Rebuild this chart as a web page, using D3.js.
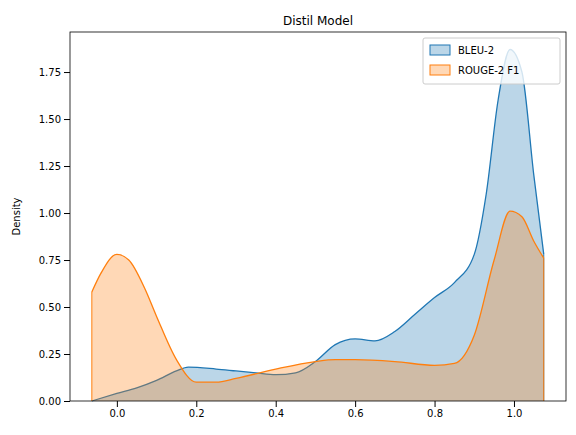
<!DOCTYPE html><html><head><script src="https://cdn.jsdelivr.net/npm/d3@7"></script>
<style>body{margin:0;background:#fff}text{font-family:"DejaVu Sans",sans-serif}</style></head><body><svg id="c" width="576" height="435"></svg>
<script>
const seriesNames=["BLEU-2","ROUGE-2 F1"];
const bleuX=[-0.063,0,0.05,0.1,0.15,0.18,0.25,0.3,0.35,0.4,0.45,0.5,0.55,0.6,0.65,0.7,0.75,0.8,0.85,0.9,0.93,0.96,0.99,1.02,1.05,1.075];
const bleuY=[0.0,0.04,0.07,0.11,0.16,0.18,0.17,0.16,0.15,0.14,0.15,0.21,0.3,0.33,0.32,0.37,0.46,0.55,0.63,0.78,1.1,1.6,1.87,1.75,1.2,0.78];
const rougeX=[-0.063,-0.04,0,0.03,0.07,0.1,0.15,0.2,0.25,0.3,0.4,0.5,0.55,0.6,0.7,0.8,0.85,0.9,0.95,0.99,1.02,1.05,1.075];
const rougeY=[0.58,0.68,0.78,0.75,0.6,0.45,0.22,0.1,0.1,0.12,0.17,0.21,0.22,0.22,0.21,0.19,0.2,0.35,0.75,1.01,0.98,0.85,0.76];
const xTicks=[0,0.2,0.4,0.6,0.8,1.0];
const yTicks=[0,0.25,0.5,0.75,1,1.25,1.5,1.75];
const colors=["#1f77b4","#ff7f0e"];
const L=70,R=566,T=32,B=401;
const svg=d3.select("#c");
const x=d3.scaleLinear().domain([-0.118,1.131]).range([L,R]);
const y=d3.scaleLinear().domain([0,1.963]).range([B,T]);
const data=[d3.zip(bleuX,bleuY),d3.zip(rougeX,rougeY)];
const area=d3.area().x(d=>x(d[0])).y0(y(0)).y1(d=>y(d[1])).curve(d3.curveMonotoneX);
const line=d3.line().x(d=>x(d[0])).y(d=>y(d[1])).curve(d3.curveMonotoneX);
data.forEach((s,i)=>{
 const full=[[s[0][0],0],...s,[s[s.length-1][0],0]];
 svg.append("path").attr("d",area(s)).attr("fill",colors[i]).attr("fill-opacity",0.3);
 svg.append("path").attr("d",d3.line().x(d=>x(d[0])).y(d=>y(d[1]))([[s[0][0],0],s[0]])).attr("stroke",colors[i]).attr("fill","none");
 svg.append("path").attr("d",d3.line().x(d=>x(d[0])).y(d=>y(d[1]))([s[s.length-1],[s[s.length-1][0],0]])).attr("stroke",colors[i]).attr("fill","none");
 svg.append("path").attr("d",line(s)).attr("stroke",colors[i]).attr("stroke-width",1.3).attr("fill","none");
});
svg.append("g").attr("transform",`translate(0,${B})`).call(d3.axisBottom(x).tickValues(xTicks).tickFormat(d3.format(".1f")).tickSizeOuter(0)).attr("font-size",10);
svg.append("g").attr("transform",`translate(${L},0)`).call(d3.axisLeft(y).tickValues(yTicks).tickFormat(d3.format(".2f")).tickSizeOuter(0)).attr("font-size",10);
svg.selectAll(".domain").remove();
svg.append("rect").attr("x",L).attr("y",T).attr("width",R-L).attr("height",B-T).attr("fill","none").attr("stroke","#000").attr("stroke-width",0.8);
svg.selectAll(".tick text").attr("fill","#000");
svg.append("text").attr("x",(L+R)/2).attr("y",T-7).attr("text-anchor","middle").attr("font-size",12).text("Distil Model");
svg.append("text").attr("transform",`translate(20,${(T+B)/2}) rotate(-90)`).attr("text-anchor","middle").attr("font-size",10).text("Density");
const lg=svg.append("g").attr("transform","translate(423,38)");
lg.append("rect").attr("width",137).attr("height",46).attr("fill","#fff").attr("fill-opacity",0.8).attr("stroke","#ccc").attr("rx",2);
seriesNames.forEach((n,i)=>{
 lg.append("rect").attr("x",7).attr("y",7+i*20).attr("width",20).attr("height",10).attr("fill",colors[i]).attr("fill-opacity",0.3).attr("stroke",colors[i]);
 lg.append("text").attr("x",35).attr("y",16+i*20).attr("font-size",10).text(n);
});
</script></body></html>
